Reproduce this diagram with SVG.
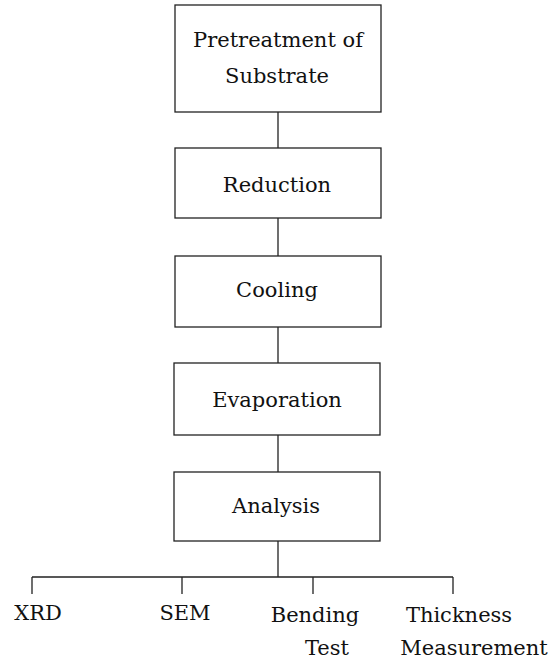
<svg xmlns="http://www.w3.org/2000/svg" width="548" height="661" viewBox="0 0 548 661">
<style>
.box{fill:#fff;stroke:#222;stroke-width:1.3}
.ln{fill:none;stroke:#222;stroke-width:1.3}
text{font-family:"DejaVu Serif","Liberation Serif",serif;font-size:21px;fill:#111;text-anchor:middle}
</style>
<rect width="548" height="661" fill="#fff"/>
<g id="connectors">
<path class="ln" d="M278 112V148M278 218V256M278 327V363M278 435V472M278 541V577M32 577H453M32 577V594M182 577V594M313 577V594M453 577V594"/>
</g>
<g id="n1"><rect class="box" x="175" y="5" width="206" height="107"/><text x="278" y="47">Pretreatment of</text><text x="277" y="83">Substrate</text></g>
<g id="n2"><rect class="box" x="175" y="148" width="206" height="70"/><text x="277" y="192">Reduction</text></g>
<g id="n3"><rect class="box" x="175" y="256" width="206" height="71"/><text x="277" y="297">Cooling</text></g>
<g id="n4"><rect class="box" x="174" y="363" width="206" height="72"/><text x="277" y="407">Evaporation</text></g>
<g id="n5"><rect class="box" x="174" y="472" width="206" height="69"/><text x="276" y="513">Analysis</text></g>
<g id="xrd"><text x="38" y="620">XRD</text></g>
<g id="sem"><text x="185" y="620">SEM</text></g>
<g id="bend"><text x="315" y="622">Bending</text><text x="327" y="655">Test</text></g>
<g id="thick"><text x="459" y="622">Thickness</text><text x="474" y="655">Measurement</text></g>
</svg>
